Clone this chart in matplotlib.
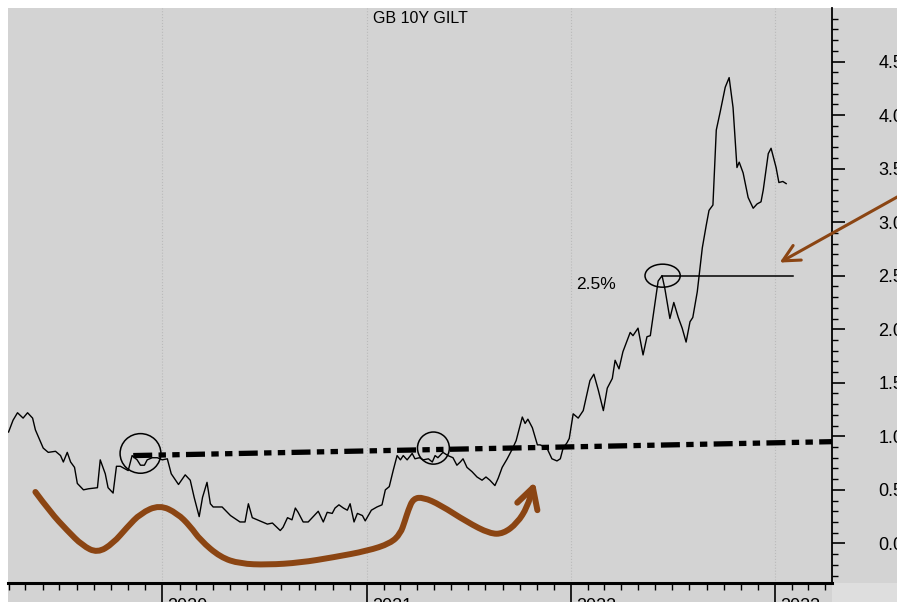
import matplotlib
matplotlib.use('Agg')
import matplotlib.pyplot as plt
import matplotlib.dates as mdates
from matplotlib.patches import Ellipse, Rectangle, PathPatch
from matplotlib.path import Path
import numpy as np

# GB 10Y gilt yield
dates = ['2019-04-01', '2019-04-09', '2019-04-17', '2019-04-27', '2019-05-05', '2019-05-14', '2019-05-19',
         '2019-06-02', '2019-06-11', '2019-06-24', '2019-07-03', '2019-07-08', '2019-07-15', '2019-07-21',
         '2019-07-28', '2019-08-02', '2019-08-13', '2019-08-22', '2019-09-07', '2019-09-12', '2019-09-21',
         '2019-09-26', '2019-10-05', '2019-10-11', '2019-10-18', '2019-10-25', '2019-11-01', '2019-11-08',
         '2019-11-17', '2019-11-23', '2019-11-30', '2019-12-05', '2019-12-14', '2019-12-23', '2020-01-01',
         '2020-01-10', '2020-01-17', '2020-01-30', '2020-02-11', '2020-02-20', '2020-02-27', '2020-03-07',
         '2020-03-13', '2020-03-21', '2020-03-27', '2020-04-01', '2020-04-17', '2020-05-02', '2020-05-19',
         '2020-05-28', '2020-06-03', '2020-06-10', '2020-06-19', '2020-06-28', '2020-07-07', '2020-07-16',
         '2020-07-30', '2020-08-04', '2020-08-12', '2020-08-20', '2020-08-26', '2020-08-31', '2020-09-09',
         '2020-09-18', '2020-09-27', '2020-10-06', '2020-10-15', '2020-10-22', '2020-10-31', '2020-11-05',
         '2020-11-12', '2020-11-20', '2020-11-27', '2020-12-02', '2020-12-09', '2020-12-15', '2020-12-24',
         '2020-12-29', '2021-01-09', '2021-01-19', '2021-01-28', '2021-02-03', '2021-02-10', '2021-02-17',
         '2021-02-24', '2021-03-02', '2021-03-07', '2021-03-14', '2021-03-23', '2021-03-28', '2021-04-05',
         '2021-04-12', '2021-04-21', '2021-04-28', '2021-05-03', '2021-05-08', '2021-05-17', '2021-05-26',
         '2021-06-04', '2021-06-11', '2021-06-17', '2021-06-22', '2021-06-29', '2021-07-08', '2021-07-17',
         '2021-07-26', '2021-08-02', '2021-08-09', '2021-08-18', '2021-08-24', '2021-08-31', '2021-09-09',
         '2021-09-18', '2021-09-25', '2021-10-06', '2021-10-11', '2021-10-16', '2021-10-24', '2021-11-02',
         '2021-11-07', '2021-11-19', '2021-11-28', '2021-12-07', '2021-12-13', '2021-12-18', '2021-12-25',
         '2021-12-29', '2022-01-05', '2022-01-14', '2022-01-23', '2022-02-04', '2022-02-11', '2022-02-19',
         '2022-02-28', '2022-03-07', '2022-03-16', '2022-03-21', '2022-03-28', '2022-04-04', '2022-04-17',
         '2022-04-22', '2022-05-01', '2022-05-10', '2022-05-17', '2022-05-23', '2022-06-01', '2022-06-06',
         '2022-06-13', '2022-06-18', '2022-06-27', '2022-07-04', '2022-07-12', '2022-07-19', '2022-07-26',
         '2022-08-02', '2022-08-07', '2022-08-15', '2022-08-24', '2022-08-31', '2022-09-05', '2022-09-12',
         '2022-09-18', '2022-09-25', '2022-10-04', '2022-10-11', '2022-10-18', '2022-10-25', '2022-10-29',
         '2022-11-05', '2022-11-14', '2022-11-23', '2022-11-30', '2022-12-07', '2022-12-11', '2022-12-20',
         '2022-12-25', '2023-01-03', '2023-01-08', '2023-01-15', '2023-01-21']
yields = [1.04, 1.15, 1.22, 1.17, 1.22, 1.17, 1.06,
          0.89, 0.85, 0.86, 0.82, 0.76, 0.85, 0.76,
          0.71, 0.56, 0.50, 0.51, 0.52, 0.78, 0.65,
          0.52, 0.47, 0.72, 0.72, 0.70, 0.68, 0.82,
          0.78, 0.73, 0.73, 0.78, 0.80, 0.80, 0.78,
          0.79, 0.65, 0.55, 0.64, 0.59, 0.43, 0.25,
          0.43, 0.57, 0.37, 0.34, 0.34, 0.26, 0.20,
          0.20, 0.37, 0.24, 0.22, 0.20, 0.18, 0.19,
          0.12, 0.15, 0.24, 0.22, 0.33, 0.29, 0.20,
          0.20, 0.25, 0.30, 0.20, 0.29, 0.28, 0.33,
          0.36, 0.33, 0.31, 0.37, 0.20, 0.28, 0.26,
          0.21, 0.31, 0.34, 0.36, 0.50, 0.53, 0.68,
          0.82, 0.78, 0.82, 0.78, 0.84, 0.79, 0.80,
          0.78, 0.79, 0.76, 0.82, 0.80, 0.85, 0.82,
          0.80, 0.73, 0.76, 0.79, 0.71, 0.67, 0.62,
          0.59, 0.62, 0.59, 0.54, 0.61, 0.71, 0.79,
          0.88, 0.96, 1.18, 1.12, 1.16, 1.08, 0.92,
          0.92, 0.89, 0.79, 0.77, 0.79, 0.89, 0.94,
          0.98, 1.21, 1.17, 1.24, 1.52, 1.58, 1.43,
          1.24, 1.45, 1.54, 1.71, 1.63, 1.79, 1.97,
          1.94, 2.01, 1.76, 1.93, 1.94, 2.27, 2.45,
          2.50, 2.38, 2.10, 2.25, 2.11, 2.01, 1.88,
          2.07, 2.11, 2.35, 2.76, 2.97, 3.11, 3.16,
          3.86, 4.03, 4.26, 4.35, 4.07, 3.51, 3.56,
          3.46, 3.23, 3.13, 3.17, 3.19, 3.30, 3.64,
          3.69, 3.51, 3.37, 3.38, 3.36]

# dash-dot support line
trend_dates = ['2019-11-10', '2023-04-13']
trend_vals = [0.82, 0.95]

# circled points: centre date, centre value, width (days), height
circle_dates = ['2019-11-23', '2021-04-30', '2022-06-14']
circle_vals = [0.84, 0.89, 2.50]
circle_w = [73, 57, 63]
circle_h = [0.37, 0.30, 0.215]

level_dates = ['2022-06-13', '2023-02-02']
level_val = 2.5

# hand-drawn brown curve
brown_dates = ['2019-05-19', '2019-06-15', '2019-07-15', '2019-08-11', '2019-09-07', '2019-10-05',
               '2019-10-30', '2019-11-23', '2019-12-27', '2020-01-28', '2020-02-20', '2020-03-09',
               '2020-04-14', '2020-05-19', '2020-07-07', '2020-09-04', '2020-11-02', '2021-01-02',
               '2021-02-12', '2021-03-02', '2021-03-10', '2021-03-16', '2021-03-25', '2021-04-12',
               '2021-05-12', '2021-06-29', '2021-08-09', '2021-09-02', '2021-09-27', '2021-10-15',
               '2021-10-25']
brown_vals = [0.48, 0.29, 0.12, -0.02, -0.09, 0.00,
              0.15, 0.28, 0.36, 0.28, 0.16, 0.03,
              -0.13, -0.19, -0.20, -0.18, -0.13, -0.07,
              0.00, 0.09, 0.21, 0.31, 0.42, 0.43,
              0.36, 0.20, 0.09, 0.09, 0.19, 0.34,
              0.52]
brown_head_dates = ['2021-09-27', '2021-10-25', '2021-11-02']
brown_head_vals = [0.38, 0.52, 0.31]

arrow_tip = ('2023-01-05', 2.61)
arrow_tail = ('2023-08-30', 3.30)

brown = '#8b4513'
bg = '#d3d3d3'

plt.rcParams['font.family'] = ['Liberation Sans', 'DejaVu Sans']

fig = plt.figure(figsize=(8.97, 6.02), dpi=100, facecolor='white')
fig.patches.append(Rectangle((8 / 897, 0), 1, (602 - 8) / 602, transform=fig.transFigure,
                             facecolor=bg, edgecolor='none', zorder=-10))
fig.patches.append(Rectangle((832 / 897, 0), 1, 19 / 602, transform=fig.transFigure,
                             facecolor='#dedede', edgecolor='none', zorder=-9))
ax = fig.add_axes([8 / 897, 19 / 602, 824 / 897, 575 / 602])
ax.set_facecolor(bg)

d = mdates.datestr2num
x = [d(s) for s in dates]
ax.plot(x, yields, color='black', lw=1.0, zorder=5)

# support line
ax.plot([d(s) for s in trend_dates], trend_vals, color='black', lw=3.8,
        dashes=(3.6, 1.2, 1.4, 1.2, 1.4, 1.2), solid_capstyle='butt', dash_capstyle='butt', zorder=4)

for cd, cv, w, h in zip(circle_dates, circle_vals, circle_w, circle_h):
    ax.add_patch(Ellipse((d(cd), cv), w, h, fill=False, edgecolor='black', lw=1.1, zorder=6))

ax.plot([d(s) for s in level_dates], [level_val, level_val], color='black', lw=1.1, zorder=5)
ax.text(d('2022-01-10'), 2.42, '2.5%', fontsize=12.5, ha='left', va='center')

# brown curve smoothed with quadratic segments through midpoints
pts = np.column_stack([[d(s) for s in brown_dates], brown_vals])
verts = [pts[0]]
codes = [Path.MOVETO]
for i in range(1, len(pts) - 1):
    verts += [pts[i], (pts[i] + pts[i + 1]) / 2]
    codes += [Path.CURVE3, Path.CURVE3]
verts.append(pts[-1])
codes.append(Path.LINETO)
ax.add_patch(PathPatch(Path(verts, codes), fill=False, edgecolor=brown, lw=4.3,
                       capstyle='round', joinstyle='round', zorder=3))
ax.plot([d(s) for s in brown_head_dates], brown_head_vals, color=brown, lw=4.3,
        solid_capstyle='round', solid_joinstyle='round', zorder=3)

ann = ax.annotate('', xy=(d(arrow_tip[0]), arrow_tip[1]), xytext=(d(arrow_tail[0]), arrow_tail[1]),
                  arrowprops=dict(arrowstyle='->,head_length=1.2,head_width=0.6', color=brown, lw=2.2),
                  annotation_clip=False, zorder=7)
ann.arrow_patch.set_clip_on(False)

ax.text(0.5, 0.995, 'GB 10Y GILT', transform=ax.transAxes, ha='center', va='top', fontsize=11.5)

# axes and ticks
ax.set_xlim(d('2019-03-31'), d('2023-04-13'))
ax.set_ylim(-0.37, 5.0)
for s in ['top', 'left']:
    ax.spines[s].set_visible(False)
ax.spines['right'].set_linewidth(1.3)
ax.spines['bottom'].set_linewidth(2.2)

ax.yaxis.tick_right()
ax.set_yticks(np.arange(0, 4.51, 0.5))
ax.set_yticks(np.arange(-0.3, 5.0, 0.1), minor=True)
ax.set_yticklabels(['%.1f' % v for v in np.arange(0, 4.51, 0.5)])
ax.tick_params(axis='y', which='major', length=9.5, width=1.2, pad=24, labelsize=13)
ax.tick_params(axis='y', which='minor', length=4, width=1.0)

ax.xaxis.set_major_locator(mdates.YearLocator())
ax.xaxis.set_minor_locator(mdates.MonthLocator())
ax.set_xticklabels([])
ax.tick_params(axis='x', which='major', length=20, width=1.2)
ax.tick_params(axis='x', which='minor', length=5, width=1.0)
ax.grid(axis='x', which='major', color='#bababa', lw=0.8, ls=':')
for yr in ['2020', '2021', '2022', '2023']:
    ax.text(d(yr + '-01-10'), -0.026, yr, transform=ax.get_xaxis_transform(),
            ha='left', va='top', fontsize=13, clip_on=False)

fig.savefig('out.png', dpi=100, facecolor=fig.get_facecolor())
